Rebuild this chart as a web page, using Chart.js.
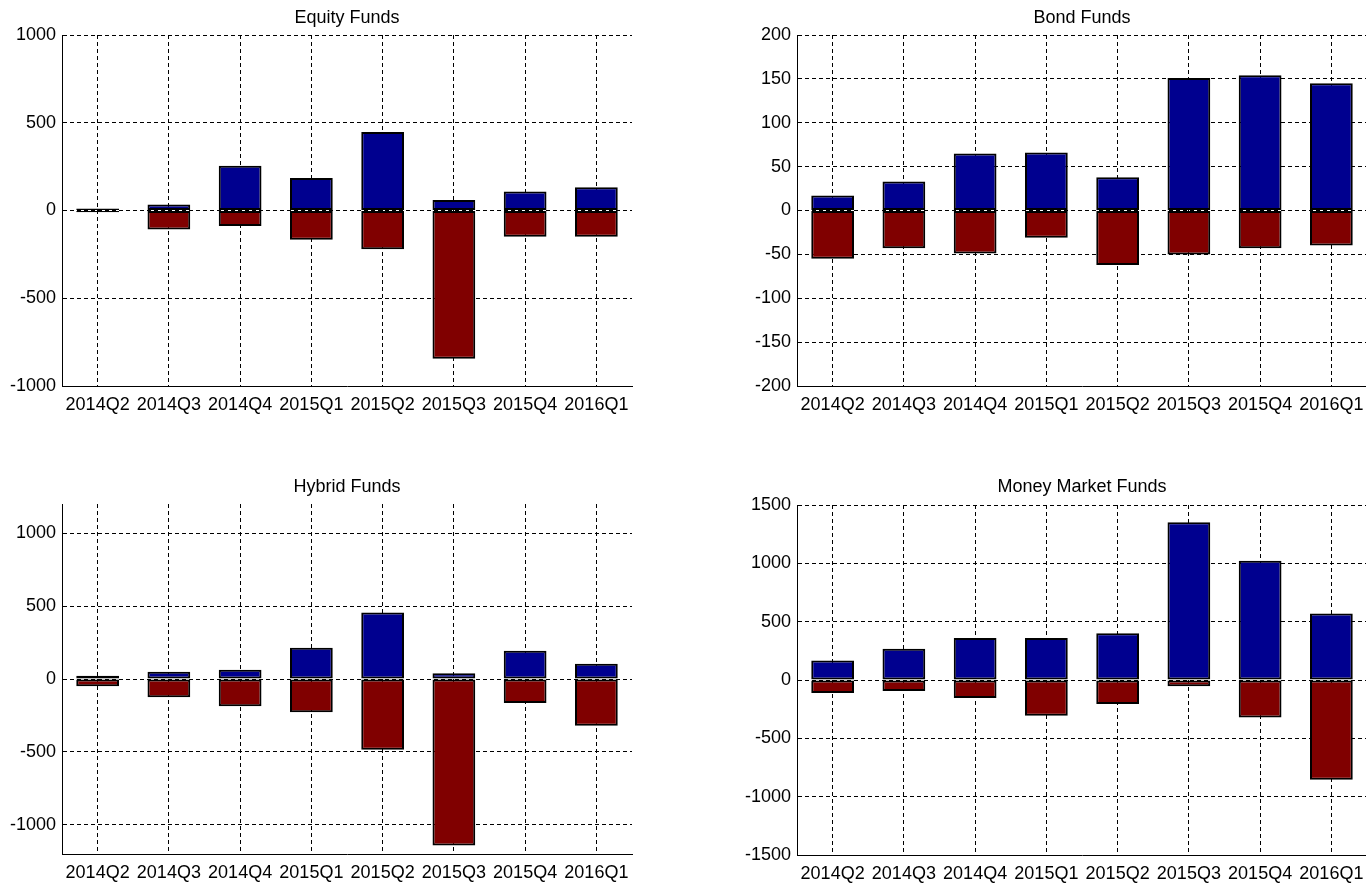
<!DOCTYPE html>
<html>
<head>
<meta charset="utf-8">
<title>Fund flows by quarter</title>
<script src="https://cdn.jsdelivr.net/npm/chart.js@4/dist/chart.umd.min.js"></script>
<style>
  html, body { margin: 0; padding: 0; background: #fff; overflow: hidden; width: 1366px; height: 884px; }
  .panel { position: absolute; width: 640px; height: 442px; }
</style>
</head>
<body>
<div class="panel" style="left:0;top:0"><canvas id="equity"></canvas></div>
<div class="panel" style="left:735px;top:0"><canvas id="bond"></canvas></div>
<div class="panel" style="left:0;top:442px"><canvas id="hybrid"></canvas></div>
<div class="panel" style="left:735px;top:442px"><canvas id="money"></canvas></div>
<script>
// Quarters on the category axis
const quarters = ['2014Q2', '2014Q3', '2014Q4', '2015Q1', '2015Q2', '2015Q3', '2015Q4', '2016Q1'];

// Equity funds: inflows (positive) and outflows (negative)
const equityIn  = [12, 34, 255, 185, 447, 60, 108, 132];
const equityOut = [-10, -108, -89, -166, -221, -845, -149, -149];
const equityTicks = [-1000, -500, 0, 500, 1000];

// Bond funds
const bondIn  = [17, 33, 65, 66, 38, 151, 154, 145];
const bondOut = [-55, -43, -49, -31, -62, -50, -43, -40];
const bondTicks = [-200, -150, -100, -50, 0, 50, 100, 150, 200];

// Hybrid funds
const hybridIn  = [23, 50, 64, 214, 456, 39, 194, 105];
const hybridOut = [-50, -125, -187, -228, -485, -1141, -164, -321];
const hybridTicks = [-1000, -500, 0, 500, 1000];

// Money market funds
const moneyIn  = [168, 268, 361, 361, 401, 1352, 1022, 569];
const moneyOut = [-111, -94, -154, -307, -205, -54, -322, -854];
const moneyTicks = [-1500, -1000, -500, 0, 500, 1000, 1500];

const FONT = '"Liberation Sans", Arial, Helvetica, sans-serif';
const IN_COLOR = 'rgb(0,0,143)';
const OUT_COLOR = 'rgb(128,0,0)';

// Panel heading centred over the plotting area
const panelTitle = {
  id: 'panelTitle',
  afterDraw(chart, args, opts) {
    const { ctx, chartArea } = chart;
    ctx.save();
    ctx.font = '18px ' + FONT;
    ctx.fillStyle = '#000';
    ctx.textAlign = 'center';
    ctx.textBaseline = 'alphabetic';
    ctx.fillText(opts.text, (chartArea.left + chartArea.right) / 2, opts.baseline);
    ctx.restore();
  }
};

function panel(id, title, inflow, outflow, ticks, min, max, padTop, axisH, titleBase) {
  new Chart(document.getElementById(id), {
    type: 'bar',
    data: {
      labels: quarters,
      datasets: [
        { label: 'inflow', data: inflow, backgroundColor: IN_COLOR },
        { label: 'outflow', data: outflow, backgroundColor: OUT_COLOR }
      ]
    },
    options: {
      responsive: true,
      maintainAspectRatio: false,
      animation: false,
      layout: { padding: { top: padTop, right: 8, left: 0, bottom: 0 } },
      datasets: {
        bar: {
          barPercentage: 0.6,
          categoryPercentage: 1.0,
          borderColor: '#000',
          borderWidth: 2,
          borderSkipped: false
        }
      },
      plugins: {
        legend: { display: false },
        tooltip: { enabled: false },
        title: { display: false },
        panelTitle: { text: title, baseline: titleBase }
      },
      scales: {
        x: {
          stacked: true,
          offset: true,
          afterFit(scale) { scale.height = axisH; },
          grid: { offset: false, color: '#000', lineWidth: 1, drawTicks: false },
          border: { display: true, color: '#000', width: 1, dash: [4, 3] },
          ticks: { color: '#000', font: { family: FONT, size: 18 }, padding: 8, maxRotation: 0, autoSkip: false }
        },
        y: {
          stacked: true,
          min: min,
          max: max,
          afterFit(scale) { scale.width = 62; },
          afterBuildTicks(scale) { scale.ticks = ticks.map(v => ({ value: v })); },
          grid: { color: '#000', lineWidth: 1, drawTicks: false },
          border: { display: true, color: '#000', width: 1, dash: [4, 3] },
          ticks: {
            color: '#000',
            font: { family: FONT, size: 18 },
            padding: 6,
            callback: v => String(v)
          }
        }
      }
    },
    plugins: [panelTitle]
  });
}

panel('equity', 'Equity Funds', equityIn, equityOut, equityTicks, -1000, 1000, 35, 56, 23);
panel('bond', 'Bond Funds', bondIn, bondOut, bondTicks, -200, 200, 35, 56, 23);
panel('hybrid', 'Hybrid Funds', hybridIn, hybridOut, hybridTicks, -1200, 1200, 62, 30, 50);
panel('money', 'Money Market Funds', moneyIn, moneyOut, moneyTicks, -1500, 1500, 63, 29, 50);
</script>
</body>
</html>
